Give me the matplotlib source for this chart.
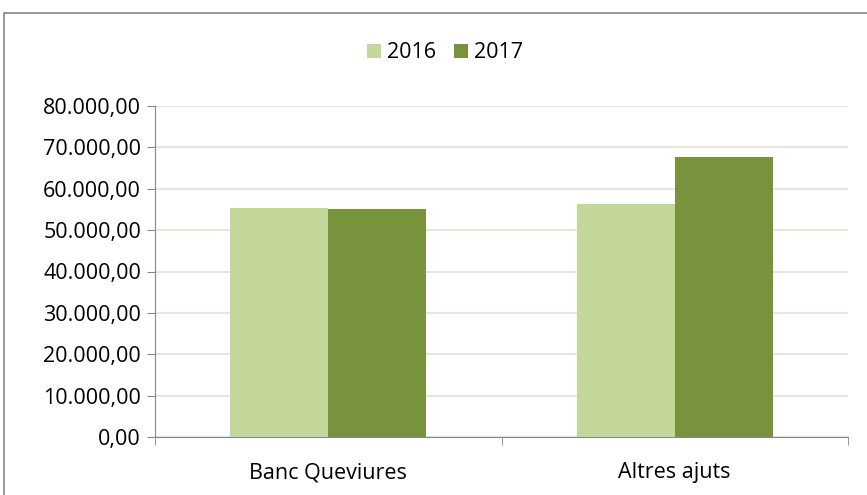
import numpy as np
import matplotlib.pyplot as plt
from matplotlib.patches import Rectangle
from matplotlib.ticker import FuncFormatter, FixedLocator

# Dades
categories = ["Banc Queviures", "Altres ajuts"]
anys = ["2016", "2017"]
valors_2016 = [55300, 56300]
valors_2017 = [55100, 67700]
colors = ["#c4d79b", "#77933c"]

plt.rcParams['font.family'] = ['Open Sans', 'DejaVu Sans']
fs = 15.5

fig = plt.figure(figsize=(8.67, 4.95), dpi=100)
ax = fig.add_axes([155 / 867, 1 - 437 / 495, (848 - 155) / 867, (437 - 106) / 495])

# marc exterior (retallat)
fig.patches.append(Rectangle((4 / 867, -0.1), 1.2, 1 - 13 / 495 + 0.1,
                             transform=fig.transFigure, fill=False,
                             edgecolor="#868686", linewidth=1.2))

x = np.arange(len(categories))
w = 0.283
ax.bar(x - w / 2, valors_2016, w, color=colors[0], label=anys[0], zorder=3)
ax.bar(x + w / 2, valors_2017, w, color=colors[1], label=anys[1], zorder=3)

ax.set_xlim(-0.5, 1.5)
ax.set_ylim(0, 80000)
ax.set_yticks(np.arange(0, 80001, 10000))


def fmt(v, pos):
    s = f"{v:,.2f}"
    return s.replace(",", "X").replace(".", ",").replace("X", ".")


ax.yaxis.set_major_formatter(FuncFormatter(fmt))
ax.yaxis.grid(True, color="#e6e6da", linewidth=1.5, zorder=0)

ax.set_xticks(x)
ax.set_xticklabels(categories)
ax.xaxis.set_minor_locator(FixedLocator([-0.5, 0.5, 1.5]))
ax.tick_params(axis='x', which='major', length=0, pad=18, labelsize=fs)
ax.tick_params(axis='x', which='minor', length=6, color="#868686", direction='out')
ax.tick_params(axis='y', length=6, color="#868686", labelsize=fs, pad=4)

for s in ["top", "right"]:
    ax.spines[s].set_visible(False)
ax.spines["left"].set_color("#868686")
ax.spines["bottom"].set_color("#868686")

fig.legend(loc="center", bbox_to_anchor=(445 / 867, 1 - 53 / 495), ncol=2,
           frameon=False, fontsize=fs, handlelength=0.65, handleheight=0.65,
           handletextpad=0.3, columnspacing=0.8)

fig.savefig("out.png", dpi=100)
